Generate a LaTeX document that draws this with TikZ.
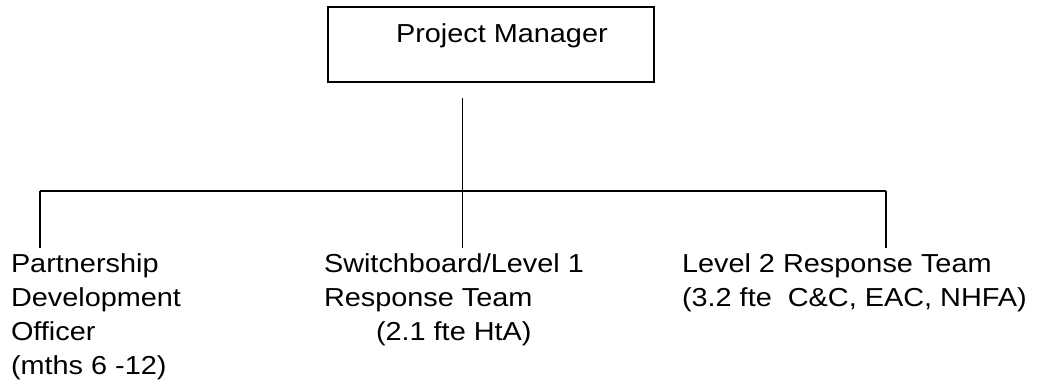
\documentclass[tikz,border=0pt]{standalone}
\usepackage{fontspec}
\setmainfont[FakeStretch=1.11]{Liberation Sans}
\usepackage{tikz}
\usetikzlibrary{positioning}

\begin{document}
\begin{tikzpicture}[x=1pt,y=-1pt,
    every node/.style={font=\fontsize{26}{34}\selectfont,inner xsep=0pt,inner ysep=6pt,outer sep=0pt},
    post/.style={align=left,anchor=north west},
    bar/.style={line width=2pt},
    stem/.style={line width=1pt}]
    \useasboundingbox (0,0) rectangle (1043,385);
    \node[draw,line width=1.6pt,minimum width=326pt,minimum height=75pt] (pm) at (491,44.5) {};
    \node[anchor=base west] (pmtext) at (396,43) {Project Manager};
    \node[post] (pdo) at (11,248) {Partnership\\Development\\Officer\\(mths 6 -12)};
    \node[post] (sb) at (324,248) {Switchboard/Level 1\\Response Team\\\hspace*{52pt}(2.1 fte HtA)};
    \node[post] (lt) at (682,248) {Level 2 Response Team\\(3.2 fte\ \ C\&C, EAC, NHFA)};
    \coordinate (stemtop) at (462,98);
    \coordinate (barW) at (40,191);
    \coordinate (barE) at (886,191);
    \draw[stem] (stemtop) -- (stemtop |- sb.north);
    \draw[bar] (barW) -- (barE);
    \draw[bar] (barW) -- (barW |- pdo.north);
    \draw[bar] (barE) -- (barE |- lt.north);
\end{tikzpicture}
\end{document}
